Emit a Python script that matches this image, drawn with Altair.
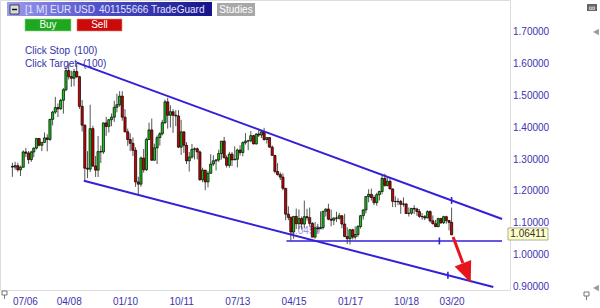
import altair as alt
import pandas as pd

# ---------------- data (monthly EUR/USD candles, Jul 2006 .. Mar 2020) ----------------
first_month = "2006-07-01"
n_months = 165

opens = [
    1.2790, 1.2765, 1.2810, 1.2680, 1.2760, 1.3240,
    1.3200, 1.3000, 1.3240, 1.3360, 1.3660, 1.3450, 1.3540, 1.3680, 1.3630, 1.4260, 1.4490, 1.4630,
    1.4590, 1.4860, 1.5190, 1.5790, 1.5600, 1.5550, 1.5760, 1.5600, 1.4670, 1.4080, 1.2730, 1.2700,
    1.3970, 1.2800, 1.2670, 1.3250, 1.3240, 1.4150, 1.4040, 1.4250, 1.4330, 1.4640, 1.4720, 1.4990,
    1.4330, 1.3870, 1.3630, 1.3510, 1.3290, 1.2300, 1.2230, 1.3050, 1.2680, 1.3630, 1.3930, 1.2980,
    1.3370, 1.3690, 1.3810, 1.4160, 1.4810, 1.4390, 1.4500, 1.4390, 1.4370, 1.3390, 1.3870, 1.3450,
    1.2960, 1.3080, 1.3320, 1.3340, 1.3240, 1.2370, 1.2670, 1.2300, 1.2570, 1.2860, 1.2960, 1.2990,
    1.3190, 1.3580, 1.3060, 1.2820, 1.3170, 1.2990, 1.3010, 1.3300, 1.3220, 1.3530, 1.3580, 1.3590,
    1.3750, 1.3490, 1.3800, 1.3770, 1.3870, 1.3630, 1.3690, 1.3390, 1.3130, 1.2630, 1.2530, 1.2450,
    1.2100, 1.1290, 1.1190, 1.0730, 1.1220, 1.0990, 1.1150, 1.0980, 1.1210, 1.1180, 1.1000, 1.0570,
    1.0860, 1.0830, 1.0870, 1.1380, 1.1450, 1.1130, 1.1100, 1.1170, 1.1160, 1.1240, 1.0980, 1.0590,
    1.0520, 1.0800, 1.0570, 1.0650, 1.0900, 1.1240, 1.1420, 1.1840, 1.1910, 1.1810, 1.1650, 1.1900,
    1.2000, 1.2410, 1.2190, 1.2320, 1.2080, 1.1690, 1.1680, 1.1690, 1.1600, 1.1610, 1.1310, 1.1320,
    1.1470, 1.1450, 1.1370, 1.1220, 1.1210, 1.1170, 1.1370, 1.1080, 1.0990, 1.0900, 1.1150, 1.1020,
    1.1210, 1.1090, 1.1030,
]
highs = [
    1.2900, 1.2930, 1.2900, 1.2810, 1.3290, 1.3365,
    1.3270, 1.3275, 1.3380, 1.3680, 1.3665, 1.3545, 1.3850, 1.3795, 1.4280, 1.4530, 1.4965, 1.4760,
    1.4905, 1.5240, 1.5905, 1.6020, 1.5785, 1.5840, 1.6040, 1.5625, 1.4865, 1.4100, 1.3265, 1.4720,
    1.4060, 1.3110, 1.3740, 1.3440, 1.4160, 1.4340, 1.4275, 1.4445, 1.4845, 1.5065, 1.5145, 1.5145,
    1.4580, 1.3970, 1.3820, 1.3695, 1.3390, 1.2465, 1.3100, 1.3335, 1.3690, 1.4160, 1.4285, 1.3500,
    1.3760, 1.3860, 1.4250, 1.4880, 1.4940, 1.4700, 1.4580, 1.4550, 1.4550, 1.4250, 1.3880, 1.3550,
    1.3235, 1.3490, 1.3385, 1.3380, 1.3285, 1.2745, 1.2670, 1.2640, 1.3170, 1.3140, 1.3010, 1.3310,
    1.3580, 1.3710, 1.3135, 1.3245, 1.3240, 1.3415, 1.3345, 1.3450, 1.3570, 1.3830, 1.3620, 1.3895,
    1.3775, 1.3825, 1.3965, 1.3905, 1.3995, 1.3700, 1.3700, 1.3445, 1.3150, 1.2890, 1.2600, 1.2570,
    1.2100, 1.1535, 1.1215, 1.1215, 1.1465, 1.1435, 1.1215, 1.1715, 1.1460, 1.1495, 1.1040, 1.1045,
    1.0985, 1.1375, 1.1390, 1.1465, 1.1615, 1.1430, 1.1185, 1.1365, 1.1330, 1.1255, 1.1300, 1.0875,
    1.0830, 1.0830, 1.0905, 1.0950, 1.1265, 1.1445, 1.1850, 1.2070, 1.2090, 1.1880, 1.1960, 1.2025,
    1.2535, 1.2555, 1.2475, 1.2415, 1.2095, 1.1850, 1.1790, 1.1735, 1.1815, 1.1625, 1.1500, 1.1485,
    1.1570, 1.1490, 1.1450, 1.1325, 1.1265, 1.1410, 1.1410, 1.1250, 1.1110, 1.1180, 1.1175, 1.1240,
    1.1240, 1.1100, 1.1495,
]
lows = [
    1.2460, 1.2680, 1.2620, 1.2485, 1.2750, 1.3080,
    1.2865, 1.2930, 1.3075, 1.3320, 1.3415, 1.3265, 1.3530, 1.3260, 1.3590, 1.4070, 1.4430, 1.4335,
    1.4560, 1.4440, 1.5140, 1.5510, 1.5285, 1.5300, 1.5560, 1.4590, 1.3880, 1.2330, 1.2420, 1.2610,
    1.2765, 1.2455, 1.2455, 1.2890, 1.3180, 1.3745, 1.3850, 1.4045, 1.4180, 1.4480, 1.4660, 1.4220,
    1.3860, 1.3430, 1.3265, 1.3115, 1.2145, 1.1875, 1.2150, 1.2590, 1.2645, 1.3625, 1.2970, 1.2970,
    1.2860, 1.3440, 1.3760, 1.4115, 1.3970, 1.4010, 1.3840, 1.4050, 1.3360, 1.3145, 1.3210, 1.2860,
    1.2625, 1.3025, 1.3005, 1.3005, 1.2335, 1.2290, 1.2040, 1.2130, 1.2560, 1.2800, 1.2660, 1.2925,
    1.3000, 1.3035, 1.2750, 1.2745, 1.2795, 1.2990, 1.2755, 1.3130, 1.3105, 1.3470, 1.3295, 1.3545,
    1.3480, 1.3475, 1.3705, 1.3675, 1.3590, 1.3505, 1.3370, 1.3130, 1.2570, 1.2500, 1.2360, 1.2035,
    1.1100, 1.1100, 1.0460, 1.0520, 1.0820, 1.0820, 1.0810, 1.0850, 1.1085, 1.0900, 1.0565, 1.0525,
    1.0710, 1.0825, 1.0810, 1.1215, 1.1100, 1.0910, 1.0950, 1.1045, 1.1120, 1.0850, 1.0570, 1.0350,
    1.0340, 1.0495, 1.0495, 1.0570, 1.0840, 1.1120, 1.1310, 1.1660, 1.1715, 1.1575, 1.1555, 1.1720,
    1.1915, 1.2150, 1.2155, 1.2070, 1.1510, 1.1510, 1.1575, 1.1300, 1.1525, 1.1300, 1.1215, 1.1270,
    1.1290, 1.1235, 1.1175, 1.1110, 1.1105, 1.1165, 1.1025, 1.0965, 1.0880, 1.0880, 1.0980, 1.0980,
    1.0990, 1.0780, 1.0636,
]
closes = [
    1.2765, 1.2810, 1.2680, 1.2760, 1.3240, 1.3200,
    1.3000, 1.3240, 1.3360, 1.3660, 1.3450, 1.3540, 1.3680, 1.3630, 1.4260, 1.4490, 1.4630, 1.4590,
    1.4860, 1.5190, 1.5790, 1.5600, 1.5550, 1.5760, 1.5600, 1.4670, 1.4080, 1.2730, 1.2700, 1.3970,
    1.2800, 1.2670, 1.3250, 1.3240, 1.4150, 1.4040, 1.4250, 1.4330, 1.4640, 1.4720, 1.4990, 1.4330,
    1.3870, 1.3630, 1.3510, 1.3290, 1.2300, 1.2230, 1.3050, 1.2680, 1.3630, 1.3930, 1.2980, 1.3370,
    1.3690, 1.3810, 1.4160, 1.4810, 1.4390, 1.4500, 1.4390, 1.4370, 1.3390, 1.3870, 1.3450, 1.2960,
    1.3080, 1.3320, 1.3340, 1.3240, 1.2370, 1.2670, 1.2300, 1.2570, 1.2860, 1.2960, 1.2990, 1.3190,
    1.3580, 1.3060, 1.2820, 1.3170, 1.2990, 1.3010, 1.3300, 1.3220, 1.3530, 1.3580, 1.3590, 1.3750,
    1.3490, 1.3800, 1.3770, 1.3870, 1.3630, 1.3690, 1.3390, 1.3130, 1.2630, 1.2530, 1.2450, 1.2100,
    1.1290, 1.1190, 1.0730, 1.1220, 1.0990, 1.1150, 1.0980, 1.1210, 1.1180, 1.1000, 1.0570, 1.0860,
    1.0830, 1.0870, 1.1380, 1.1450, 1.1130, 1.1100, 1.1170, 1.1160, 1.1240, 1.0980, 1.0590, 1.0520,
    1.0800, 1.0570, 1.0650, 1.0900, 1.1240, 1.1420, 1.1840, 1.1910, 1.1810, 1.1650, 1.1900, 1.2000,
    1.2410, 1.2190, 1.2320, 1.2080, 1.1690, 1.1680, 1.1690, 1.1600, 1.1610, 1.1310, 1.1320, 1.1470,
    1.1450, 1.1370, 1.1220, 1.1210, 1.1170, 1.1370, 1.1080, 1.0990, 1.0900, 1.1150, 1.1020, 1.1210,
    1.1090, 1.1030, 1.0641,
]

# axis ticks
x_tick_months = [(2006, 7), (2008, 4), (2010, 1), (2011, 10), (2013, 7),
                 (2015, 4), (2017, 1), (2018, 10), (2020, 3)]
y_tick_values = [0.9, 1.0, 1.1, 1.2, 1.3, 1.4, 1.5, 1.6, 1.7]

# drawn trend lines (start date, start price, end date, end price)
line_x = ["2008-07-01", "2008-09-20", "2015-01-10"]
line_y = [1.6040, 1.2335, 1.0450]
line_x2 = ["2021-09-26", "2021-06-18", "2021-09-26"]
line_y2 = [1.1138, 0.9006, 1.0450]
line_w = [2.0, 2.0, 1.5]
# handle marks on the lines
handle_x = ["2020-03-01", "2020-01-19", "2019-10-14"]
handle_y = [1.1720, 0.9376, 1.0450]
# target arrow
arrow_x, arrow_y = "2020-03-18", 1.0573
arrow_x2, arrow_y2 = "2020-07-07", 0.9758
arrow_head_x, arrow_head_y = "2020-08-21", 0.9445
level_label = "1.0450"
last_price = "1.06411"

# ---------------- build ----------------
months = pd.date_range(first_month, periods=n_months, freq="MS").strftime("%Y-%m-%d").tolist()
df = pd.DataFrame({"date": months, "open": opens, "high": highs, "low": lows, "close": closes})
df["dir"] = ["up" if c >= o else "down" for o, c in zip(opens, closes)]

lines_df = pd.DataFrame({"x": line_x, "y": line_y, "x2": line_x2, "y2": line_y2, "w": line_w})
handles_df = pd.DataFrame({"x": handle_x, "y": handle_y})
arrow_df = pd.DataFrame({"x": [arrow_x], "y": [arrow_y], "x2": [arrow_x2], "y2": [arrow_y2]})
head_df = pd.DataFrame({"x": [arrow_head_x], "y": [arrow_head_y]})
label_df = pd.DataFrame({"x": [line_x[2]], "y": [line_y[2]], "t": [level_label]})
ylab_df = pd.DataFrame({"v": y_tick_values, "t": [f"{v:.5f}" for v in y_tick_values]})

BLUE = "#3420d8"
LABEL = "#3d33b0"
FONT = "Liberation Sans"

x_scale = alt.Scale(type="utc", nice=False,
                    domain=[alt.DateTime(year=2006, month=4, date=8, utc=True),
                            alt.DateTime(year=2021, month=10, date=29, utc=True)])
y_scale = alt.Scale(domain=[0.8912, 1.8003], zero=False, nice=False)

x_axis = alt.Axis(values=[alt.DateTime(year=y, month=m, date=1, utc=True) for y, m in x_tick_months],
                  format="%m/%y", labelFlush=False, domain=False, ticks=False, grid=False,
                  labelAlign={"condition": {"test": "datum.value < utc(2007, 0, 1)", "value": "left"},
                              "value": "center"},
                  labelPadding=6, labelColor=LABEL, labelFontSize=10, labelFont=FONT,
                  labelOverlap=False, labelBound=False, title=None)
y_axis = alt.Axis(values=y_tick_values, orient="right", domain=False, ticks=False,
                  grid=False, labels=False, title=None)

one = pd.DataFrame({"a": [0]})


def ui_rect(x, x2, y, y2, **kw):
    return alt.Chart(one).mark_rect(**kw).encode(
        x=alt.value(x), x2=alt.value(x2), y=alt.value(y), y2=alt.value(y2))


def ui_text(txt, x, y, **kw):
    kw.setdefault("font", FONT)
    kw.setdefault("fontSize", 10)
    kw.setdefault("baseline", "middle")
    return alt.Chart(one).mark_text(**kw).encode(
        x=alt.value(x), y=alt.value(y), text=alt.value(txt))


def ui_rule(x, x2, y, y2, **kw):
    return alt.Chart(one).mark_rule(**kw).encode(
        x=alt.value(x), x2=alt.value(x2), y=alt.value(y), y2=alt.value(y2))


level_text = alt.Chart(label_df).mark_text(
    align="left", dx=3, dy=-10, color="#9a90ea", fontSize=10, font=FONT
).encode(x=alt.X("x:T", scale=x_scale, axis=x_axis, title=None),
         y=alt.Y("y:Q", scale=y_scale, axis=y_axis, title=None), text="t:N")

# price-scale labels on the right
y_labels = alt.Chart(ylab_df).mark_text(
    align="left", baseline="middle", color=LABEL, fontSize=10, font=FONT
).encode(x=alt.value(513), y=alt.Y("v:Q", title=None), text="t:N")

wicks = alt.Chart(df).mark_rule(color="#555555", strokeWidth=1).encode(
    x=alt.X("date:T", title=None), y=alt.Y("low:Q", title=None), y2="high:Q")

bodies = alt.Chart(df).mark_bar(size=2.2, stroke="black", strokeWidth=0.7).encode(
    x=alt.X("date:T", title=None), y=alt.Y("open:Q", title=None), y2="close:Q",
    color=alt.Color("dir:N", scale=alt.Scale(domain=["up", "down"], range=["#18c018", "#cc0000"]),
                    legend=None))

trend = alt.Chart(lines_df).mark_rule(color=BLUE).encode(
    x=alt.X("x:T", title=None), x2="x2:T", y=alt.Y("y:Q", title=None), y2="y2:Q",
    strokeWidth=alt.StrokeWidth("w:Q", scale=None))

handles = alt.Chart(handles_df).mark_point(
    shape="M0,-1L0,1", size=49, stroke=BLUE, strokeWidth=1.6, filled=False, opacity=1
).encode(x=alt.X("x:T", title=None), y=alt.Y("y:Q", title=None))

arrow = alt.Chart(arrow_df).mark_rule(color="#e8141c", strokeWidth=3).encode(
    x=alt.X("x:T", title=None), x2="x2:T", y=alt.Y("y:Q", title=None), y2="y2:Q")

head = alt.Chart(head_df).mark_point(
    shape="M-0.85,-1L0.85,-1L0,1Z", size=441, angle=338, filled=True,
    color="#e8141c", opacity=1
).encode(x=alt.X("x:T", title=None), y=alt.Y("y:Q", title=None))

header_grad = alt.LinearGradient(
    gradient="linear", x1=0, x2=1, y1=0, y2=0,
    stops=[alt.GradientStop(color="#9c9cf0", offset=0),
           alt.GradientStop(color="#5050c8", offset=0.45),
           alt.GradientStop(color="#14148a", offset=1)])

ui = [
    ui_rect(7, 212, 2, 16, fill=header_grad),
    ui_rect(10, 19, 5, 14, fill="#dcdcdc", stroke="#222222", strokeWidth=0.8),
    ui_rule(12, 17, 9.5, 9.5, color="#111111", strokeWidth=1.5),
    ui_text("[1 M] EUR USD", 25, 9.5, align="left", color="#e4e4ff"),
    ui_text("401155666 TradeGuard", 99, 9.5, align="left", color="#e4e4ff"),
    ui_rect(217, 255, 3, 16, fill="#a8a8a8"),
    ui_text("Studies", 236, 9.5, align="center", color="white"),
    ui_rect(25, 71, 19, 31, fill="#1ea81e", stroke="#8fd08f", strokeWidth=0.6),
    ui_text("Buy", 48, 25, align="center", color="white"),
    ui_rect(77, 122, 19, 31, fill="#cc0a0a", stroke="#e08080", strokeWidth=0.6),
    ui_text("Sell", 99.5, 25, align="center", color="white"),
    ui_text("Click Stop", 25, 51, align="left", color="#3333aa"),
    ui_text("(100)", 74, 51, align="left", color="#3333aa"),
    ui_text("Click Target", 25, 64, align="left", color="#3333aa"),
    ui_text("(100)", 83, 64, align="left", color="#3333aa"),
    ui_rect(508, 548, 228, 240, fill="#ffffc8", stroke="#9a9a80", strokeWidth=0.8),
    ui_text(last_price, 528, 234, align="center", color="#333333"),
    ui_rect(587, 597, 4, 11, fill="#666666"),
    ui_text("∞", 592, 7.5, align="center", color="white", fontSize=9),
    alt.Chart(one).mark_point(shape="triangle-left", size=45, filled=True, color="#999999",
                              opacity=1).encode(x=alt.value(596), y=alt.value(32)),
    alt.Chart(one).mark_point(shape="triangle-left", size=45, filled=True, color="#999999",
                              opacity=1).encode(x=alt.value(596), y=alt.value(288)),
    ui_rect(584, 589, 292, 296, fill="white", stroke="#777777", strokeWidth=1),
    ui_rule(586.5, 586.5, 296, 300, color="#777777", strokeWidth=1),
    ui_rect(2, 7, 291, 295, fill="white", stroke="#777777", strokeWidth=1),
    ui_rule(4.5, 4.5, 295, 299, color="#777777", strokeWidth=1),
]

chart = alt.layer(level_text, y_labels, wicks, bodies, trend, handles, arrow, head, *ui).properties(
    width=510, height=290, autosize="none", background="white",
    padding={"left": 0, "top": 0, "right": 90, "bottom": 18},
).configure_view(stroke=None).configure(font=FONT)

chart.save("out.html", embed_options={"renderer": "svg", "actions": False})
